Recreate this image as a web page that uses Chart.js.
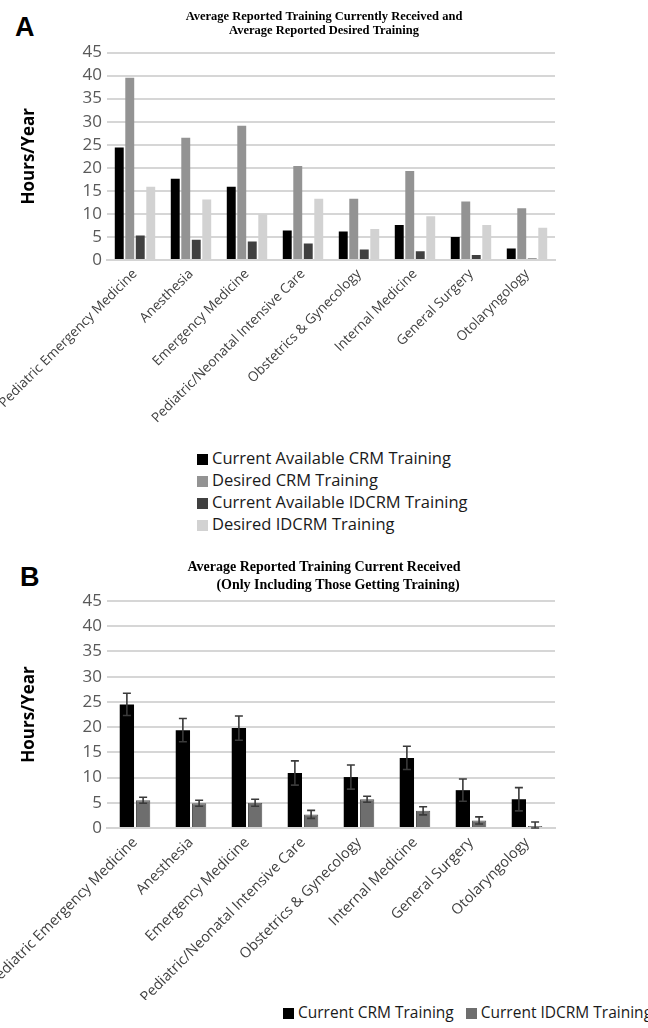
<!DOCTYPE html>
<html>
<head>
<meta charset="utf-8">
<script src="https://cdn.jsdelivr.net/npm/chart.js@4.4.1/dist/chart.umd.min.js"></script>
<style>
body{margin:0;width:648px;height:1028px;overflow:hidden;background:#fff;position:relative;font-family:"Open Sans",sans-serif;}
.panel{position:absolute;left:0;}
.tag{position:absolute;font:bold 27px "Liberation Sans",Arial,sans-serif;color:#000;}
.legend{position:absolute;color:#1a1a1a;white-space:nowrap;}
.legend .item{line-height:22px;}
.legend .box{display:inline-block;width:11px;height:11px;margin-right:4px;vertical-align:-1px;}
</style>
</head>
<body>
<div class="tag" style="left:15px;top:12px">A</div>
<div class="panel" style="top:0"><canvas id="chartA" width="648" height="440"></canvas></div>
<div class="legend" id="legendA" style="left:197px;top:447px;font-size:16.5px"></div>
<div class="tag" style="left:20px;top:562px">B</div>
<div class="panel" style="top:552px"><canvas id="chartB" width="648" height="448"></canvas></div>
<div class="legend" id="legendB" style="left:283px;top:1001px;font-size:15.5px"></div>
<script>
// categories
const specialties = ['Pediatric Emergency Medicine', 'Anesthesia', 'Emergency Medicine',
    'Pediatric/Neonatal Intensive Care', 'Obstetrics & Gynecology', 'Internal Medicine',
    'General Surgery', 'Otolaryngology'];

// panel A
const currentCRM   = [24.4, 17.6, 15.9, 6.4, 6.2, 7.6, 5.0, 2.5];
const desiredCRM   = [39.5, 26.5, 29.1, 20.4, 13.3, 19.3, 12.7, 11.2];
const currentIDCRM = [5.3, 4.4, 4.0, 3.6, 2.3, 1.9, 1.1, 0.3];
const desiredIDCRM = [15.9, 13.1, 10.0, 13.3, 6.7, 9.5, 7.6, 7.0];

// panel B (only those getting training) with error bars
const gotCRM      = [24.5, 19.4, 19.8, 10.9, 10.1, 13.9, 7.5, 5.7];
const gotCRMErr   = [2.2, 2.3, 2.4, 2.4, 2.4, 2.3, 2.2, 2.3];
const gotIDCRM    = [5.5, 4.9, 5.0, 2.7, 5.7, 3.4, 1.5, 0.4];
const gotIDCRMErr = [0.6, 0.6, 0.7, 0.8, 0.6, 0.8, 0.7, 0.8];

const yMax = 45, yStep = 5;

const errorBars = {
    id: 'errorBars',
    afterDatasetsDraw(chart) {
        const ctx = chart.ctx, y = chart.scales.y;
        chart.data.datasets.forEach((ds, i) => {
            if (!ds.errors) return;
            chart.getDatasetMeta(i).data.forEach((bar, j) => {
                const v = ds.data[j], e = ds.errors[j];
                const top = y.getPixelForValue(v + e);
                const bot = y.getPixelForValue(Math.max(v - e, 0));
                ctx.save();
                ctx.strokeStyle = '#3a3a3a';
                ctx.lineWidth = 1.6;
                ctx.beginPath();
                ctx.moveTo(bar.x, top); ctx.lineTo(bar.x, bot);
                ctx.moveTo(bar.x - 4, top); ctx.lineTo(bar.x + 4, top);
                ctx.moveTo(bar.x - 4, bot); ctx.lineTo(bar.x + 4, bot);
                ctx.stroke();
                ctx.restore();
            });
        });
    }
};

function options(titleText, titleSize, titleLH, titlePad, xHeight, xFont) {
    return {
        responsive: false,
        animation: false,
        layout: {padding: 0},
        plugins: {
            legend: {display: false},
            tooltip: {enabled: false},
            title: {
                display: true, text: titleText, color: '#000',
                font: {family: 'Liberation Serif', size: titleSize, weight: 'bold', lineHeight: titleLH},
                padding: titlePad
            }
        },
        scales: {
            x: {
                grid: {display: false, drawTicks: false},
                border: {display: true, color: '#d4d4d4', width: 2},
                ticks: {autoSkip: false, minRotation: 45, maxRotation: 45, color: '#404040',
                        font: {family: 'Open Sans', size: xFont}, padding: 6},
                // plot runs to x=555, long first label may run off the left edge
                afterFit(s) { s.height = xHeight; s.paddingLeft = 0; s.paddingRight = 93; }
            },
            y: {
                min: 0, max: yMax,
                ticks: {stepSize: yStep, autoSkip: false, color: '#595959',
                        font: {family: 'Open Sans', size: 17}, padding: 5},
                grid: {color: '#d6d6d6', lineWidth: 2, drawTicks: false},
                border: {display: false},
                title: {display: true, text: 'Hours/Year', color: '#000',
                        font: {family: 'Open Sans', size: 17, weight: 'bold'},
                        padding: {top: 19, bottom: 0}},
                afterFit(s) { s.width = 107; s.paddingTop = 0; s.paddingBottom = 0; }
            }
        }
    };
}

const namesA = ['Current Available CRM Training', 'Desired CRM Training',
                'Current Available IDCRM Training', 'Desired IDCRM Training'];
const colorsA = ['#000000', '#939393', '#404040', '#d2d2d2'];
const valuesA = [currentCRM, desiredCRM, currentIDCRM, desiredIDCRM];

new Chart(document.getElementById('chartA'), {
    type: 'bar',
    data: {
        labels: specialties,
        datasets: valuesA.map((d, i) => ({
            label: namesA[i], data: d, backgroundColor: colorsA[i],
            categoryPercentage: 0.75, barPercentage: 0.85
        }))
    },
    options: options(['Average Reported Training Currently Received and',
                      'Average Reported Desired Training'], 12.5, 1.1, {top: 10, bottom: 15}, 180, 13.5)
});

const namesB = ['Current CRM Training', 'Current IDCRM Training'];
const colorsB = ['#000000', '#6e6e6e'];

new Chart(document.getElementById('chartB'), {
    type: 'bar',
    data: {
        labels: specialties,
        datasets: [
            {label: namesB[0], data: gotCRM, errors: gotCRMErr, backgroundColor: colorsB[0],
             categoryPercentage: 0.58, barPercentage: 0.88},
            {label: namesB[1], data: gotIDCRM, errors: gotIDCRMErr, backgroundColor: colorsB[1],
             borderColor: '#555', borderWidth: 1, categoryPercentage: 0.58, barPercentage: 0.88}
        ]
    },
    options: options(['Average Reported Training Current Received',
                      '        (Only Including Those Getting Training)'], 14, 1.25, {top: 7, bottom: 7}, 172, 14.5),
    plugins: [errorBars]
});

// html legends
document.getElementById('legendA').innerHTML = namesA.map((n, i) =>
    '<div class="item"><span class="box" style="background:' + colorsA[i] + '"></span>' + n + '</div>').join('');
document.getElementById('legendB').innerHTML = namesB.map((n, i) =>
    '<span class="item" style="margin-right:12px"><span class="box" style="background:' + colorsB[i] + '"></span>' + n + '</span>').join('');
</script>
</body>
</html>
